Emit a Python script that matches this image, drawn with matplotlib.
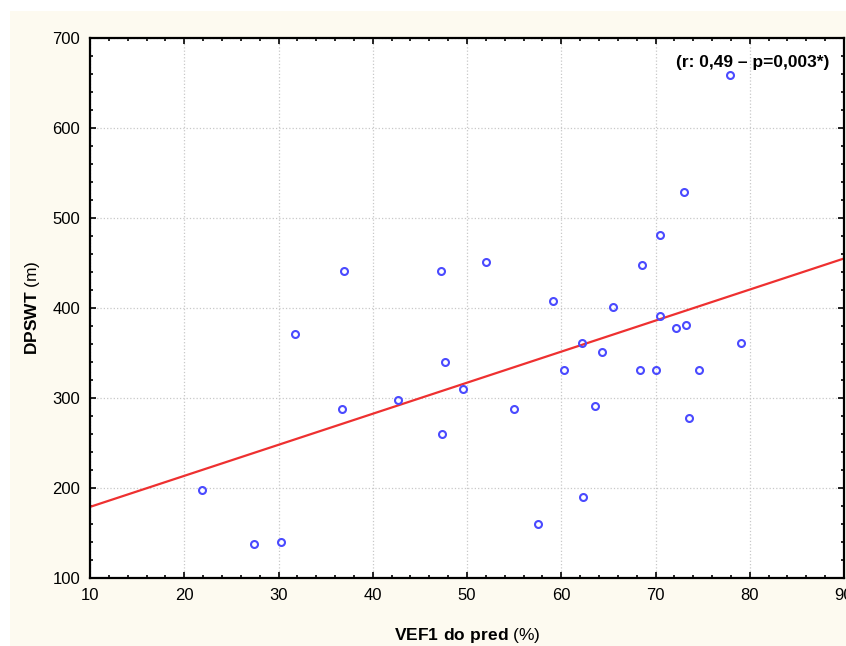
import numpy as np
import matplotlib
matplotlib.use("Agg")
import matplotlib.pyplot as plt
from matplotlib.patches import Rectangle
from matplotlib.ticker import MultipleLocator

plt.rcParams['font.family'] = ['Liberation Sans', 'DejaVu Sans']
plt.rcParams['mathtext.fontset'] = 'custom'
plt.rcParams['mathtext.rm'] = 'Liberation Sans'
plt.rcParams['mathtext.bf'] = 'Liberation Sans:bold'

# VEF1 do pred (%) vs DPSWT (m)
vef1 = [21.9, 27.4, 30.3, 31.7, 36.7, 37.0, 42.7, 47.2, 47.4, 47.7, 49.6,
        52.0, 55.0, 57.5, 59.1, 60.3, 62.2, 62.3, 63.6, 64.3, 65.5, 68.4,
        68.6, 70.05, 70.5, 70.5, 72.2, 73.0, 73.2, 73.6, 74.6, 77.9, 79.1]
dpswt = [198, 138, 140, 371, 288, 441, 298, 441, 260, 340, 310,
         451, 288, 160, 408, 331, 361, 190, 291, 351, 401, 331,
         448, 331, 481, 391, 378, 529, 381, 278, 331, 659, 361]

# regression line ends
fit_x = [10, 90]
fit_y = [179, 455]

note = "(r: 0,49 \u2013 p=0,003*)"

fig = plt.figure(figsize=(8.46, 6.46), dpi=100)
fig.patch.set_facecolor('white')
fig.patches.append(Rectangle((10/846, 0), 1, (646-11)/646, transform=fig.transFigure,
                             facecolor='#fdfaf0', edgecolor='none', zorder=-10))

ax = fig.add_axes([90/846, 1-578/646, 754/846, 540/646])
ax.set_facecolor('white')

ax.plot(fit_x, fit_y, color='#ee3030', lw=1.6, zorder=2)
ax.plot(vef1, dpswt, 'o', mfc='none', mec='#4a4aff', ms=5, mew=1.5, zorder=3)

ax.set_xlim(10, 90)
ax.set_ylim(100, 700)
ax.xaxis.set_major_locator(MultipleLocator(10))
ax.xaxis.set_minor_locator(MultipleLocator(2))
ax.yaxis.set_major_locator(MultipleLocator(100))
ax.yaxis.set_minor_locator(MultipleLocator(20))

ax.grid(True, which='major', color='#c8c8c8', ls=':', lw=0.9)
for s in ax.spines.values():
    s.set_linewidth(1.6)
ax.tick_params(which='both', direction='in', top=True, right=True, width=1.2, labelsize=12)
ax.tick_params(which='major', length=4.5, pad=7)
ax.tick_params(which='minor', length=2.5)

ax.set_xlabel(r"$\bf{VEF1\ do\ pred}$ (%)", fontsize=12.5)
ax.set_ylabel(r"$\bf{DPSWT}$ (m)", fontsize=12.5)
ax.xaxis.set_label_coords(0.5, -0.107)
ax.xaxis.label.set_va('center')
ax.yaxis.set_label_coords(-0.076, 0.5)
ax.yaxis.label.set_va('center')

ax.text(0.981, 0.954, note, transform=ax.transAxes, ha='right', va='center',
        fontsize=12.5, fontweight='bold')

fig.savefig('out.png', dpi=100)
